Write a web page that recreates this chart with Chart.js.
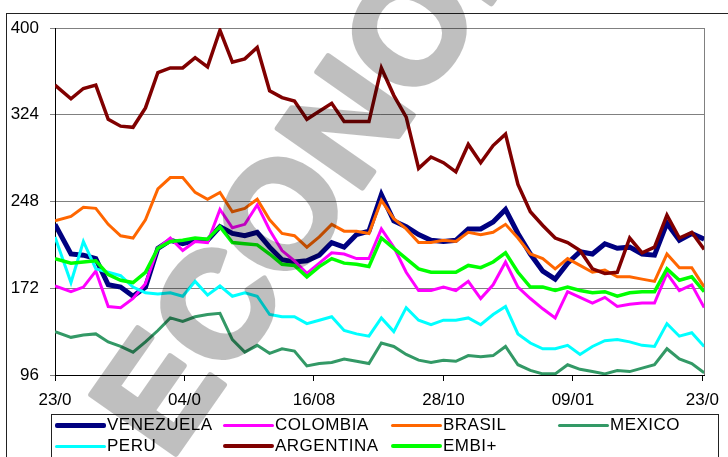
<!DOCTYPE html>
<html>
<head>
<meta charset="utf-8">
<script src="https://cdn.jsdelivr.net/npm/chart.js@4"></script>
<style>
html,body{margin:0;padding:0;background:#fff;}
#wrap{position:relative;width:728px;height:457px;overflow:hidden;background:#fff;}
#frame{position:absolute;left:6px;top:13px;width:800px;height:500px;border:1px solid #222;box-sizing:border-box;}
#c{position:absolute;left:0;top:0;}
#legend{position:absolute;left:51px;top:414px;width:668px;height:70px;border:1px solid #222;box-sizing:border-box;}
.item{position:absolute;height:20px;display:flex;align-items:center;font:17px "Liberation Sans",Arial,sans-serif;letter-spacing:0.5px;color:#000;white-space:nowrap;}
.swatch{width:51px;margin-right:1px;border-radius:2px;}
#wm{position:absolute;left:0;top:0;opacity:0.25;pointer-events:none;}
</style>
</head>
<body>
<div id="wrap">
  <div id="frame"></div>
  <canvas id="c" width="728" height="457"></canvas>
  <div id="legend"></div>
  <canvas id="wm" width="728" height="457"></canvas>
</div>
<script>
// ---- data ----
const days = [0, 9, 16, 23, 30, 37, 44, 51, 58, 65, 72, 79, 86, 93, 100, 107, 114, 121, 128, 135, 142, 149, 156, 163, 170, 177, 184, 191, 198, 205, 212, 219, 226, 233, 240, 247, 254, 261, 268, 275, 282, 289, 296, 303, 310, 317, 324, 331, 338, 345, 352, 359, 366];
const xTickDays = [0, 73, 146, 219, 292, 365];
const xTickLabels = ["23/0", "04/0", "16/08", "28/10", "09/01", "23/0"];
const yTicks = [96, 172, 248, 324, 400];
const seriesNames = ["VENEZUELA", "COLOMBIA", "BRASIL", "MEXICO", "PERU", "ARGENTINA", "EMBI+"];

const venezuela = [228, 202, 201, 198, 175, 173, 165, 173, 207, 214, 211, 214, 214, 226, 220, 218, 221, 208, 197, 195, 196, 201, 212, 208, 219, 222, 254, 231, 226, 219, 214, 213, 214, 224, 224, 230, 241, 220, 202, 187, 180, 194, 204, 202, 211, 207, 208, 202, 201, 229, 214, 220, 215];
const colombia = [174, 169, 173, 187, 156, 155, 163, 176, 207, 216, 205, 213, 212, 241, 225, 228, 245, 223, 205, 196, 185, 194, 203, 202, 198, 198, 224, 208, 186, 170, 170, 173, 170, 178, 163, 175, 195, 173, 163, 154, 146, 169, 164, 159, 164, 156, 158, 159, 159, 185, 170, 175, 155];
const brasil = [231, 235, 243, 242, 228, 218, 216, 232, 259, 269, 269, 256, 250, 256, 239, 242, 250, 232, 220, 218, 208, 217, 228, 222, 222, 220, 249, 233, 224, 212, 212, 214, 213, 221, 219, 221, 228, 216, 202, 198, 189, 198, 192, 186, 188, 182, 182, 180, 178, 202, 190, 190, 173];
const mexico = [134, 129, 131, 132, 125, 121, 116, 125, 135, 146, 143, 147, 149, 150, 127, 116, 122, 115, 119, 117, 104, 106, 107, 110, 108, 106, 124, 121, 114, 109, 107, 109, 108, 113, 112, 113, 121, 105, 100, 97, 97, 105, 101, 99, 97, 100, 99, 102, 105, 119, 110, 106, 98];
const peru = [217, 177, 213, 189, 186, 183, 173, 168, 167, 168, 165, 178, 166, 174, 165, 168, 165, 149, 147, 147, 141, 144, 147, 135, 132, 130, 146, 134, 155, 144, 140, 144, 144, 146, 140, 149, 156, 132, 124, 119, 119, 122, 114, 121, 126, 127, 125, 122, 121, 141, 130, 133, 121];
const argentina = [350, 338, 347, 350, 320, 314, 313, 330, 361, 365, 365, 374, 366, 398, 370, 373, 383, 345, 339, 336, 320, 327, 334, 318, 318, 318, 365, 341, 322, 277, 287, 282, 274, 298, 282, 297, 307, 263, 239, 227, 216, 212, 205, 189, 185, 186, 216, 203, 208, 236, 216, 221, 206];
const embi = [198, 194, 195, 196, 184, 179, 177, 186, 207, 213, 214, 216, 215, 226, 212, 211, 210, 202, 193, 192, 182, 191, 198, 194, 193, 191, 216, 207, 198, 189, 186, 186, 186, 192, 190, 195, 203, 186, 173, 173, 170, 173, 170, 168, 169, 165, 168, 169, 169, 189, 179, 182, 169];

// ---- styles ----
const seriesValues = [venezuela, colombia, brasil, mexico, peru, argentina, embi];
const colors = ["#000080", "#FF00FF", "#FF6600", "#339966", "#00FFFF", "#800000", "#00FF00"];
const widths = [5, 3, 3, 3, 3, 3.5, 3.5];
const legendCols = [55, 223, 391, 558];
const legendRows = [425, 446];

const datasets = seriesNames.map((name, k) => ({
  label: name,
  data: days.map((d, i) => ({x: d, y: seriesValues[k][i]})),
  borderColor: colors[k],
  backgroundColor: colors[k],
  borderWidth: widths[k],
  pointRadius: 0,
  tension: 0,
  fill: false,
  order: seriesNames.length - k
}));

const rightBorder = {
  id: 'rightBorder',
  beforeDatasetsDraw(chart) {
    const {ctx, chartArea} = chart;
    ctx.save();
    ctx.strokeStyle = '#808080';
    ctx.lineWidth = 1;
    ctx.beginPath();
    const x = Math.round(chartArea.right) + 0.5;
    ctx.moveTo(x, chartArea.top);
    ctx.lineTo(x, chartArea.bottom);
    ctx.stroke();
    ctx.restore();
  }
};

const font = {family: '"Liberation Sans", Arial, sans-serif', size: 17};

new Chart(document.getElementById('c'), {
  type: 'line',
  data: {datasets},
  plugins: [rightBorder],
  options: {
    responsive: false,
    animation: false,
    devicePixelRatio: 1,
    layout: {padding: {top: 28, right: 17, left: 0, bottom: 0}},
    plugins: {legend: {display: false}, tooltip: {enabled: false}},
    scales: {
      x: {
        type: 'linear',
        min: 0,
        max: 366,
        afterBuildTicks: s => { s.ticks = xTickDays.map(v => ({value: v})); },
        afterFit: s => { s.height = 82; },
        ticks: {
          autoSkip: false, maxRotation: 0, color: '#000', font, padding: 9,
          callback: v => xTickLabels[xTickDays.indexOf(v)]
        },
        grid: {drawOnChartArea: false, drawTicks: true, tickLength: 6, color: '#000'},
        border: {color: '#000', width: 1}
      },
      y: {
        min: 96,
        max: 400,
        afterBuildTicks: s => { s.ticks = yTicks.map(v => ({value: v})); },
        afterFit: s => { s.width = 55; },
        ticks: {color: '#000', font, padding: 11},
        grid: {color: '#808080', tickLength: 5, drawTicks: true},
        border: {color: '#000', width: 1}
      }
    }
  }
});

// ---- legend ----
const leg = document.getElementById('legend');
seriesNames.forEach((name, k) => {
  const col = k % 4, row = Math.floor(k / 4);
  const it = document.createElement('div');
  it.className = 'item';
  it.style.left = (legendCols[col] - 52) + 'px';
  it.style.top = (legendRows[row] - 10 - 415) + 'px';
  const sw = document.createElement('div');
  sw.className = 'swatch';
  sw.style.height = widths[k] + 'px';
  sw.style.background = colors[k];
  const tx = document.createElement('span');
  tx.textContent = name;
  it.appendChild(sw); it.appendChild(tx);
  leg.appendChild(it);
});

// ---- watermark ----
const WM_TEXT = "ECONOMIA";
const g = document.getElementById('wm').getContext('2d');
g.translate(170, 462);
g.rotate(-55 * Math.PI / 180);
g.font = 'bold 150px "Liberation Sans", Arial, sans-serif';
g.fillStyle = '#000';
g.strokeStyle = '#000';
g.lineWidth = 6;
g.lineJoin = 'round';
g.fillText(WM_TEXT, 0, 0);
g.strokeText(WM_TEXT, 0, 0);
</script>
</body>
</html>
